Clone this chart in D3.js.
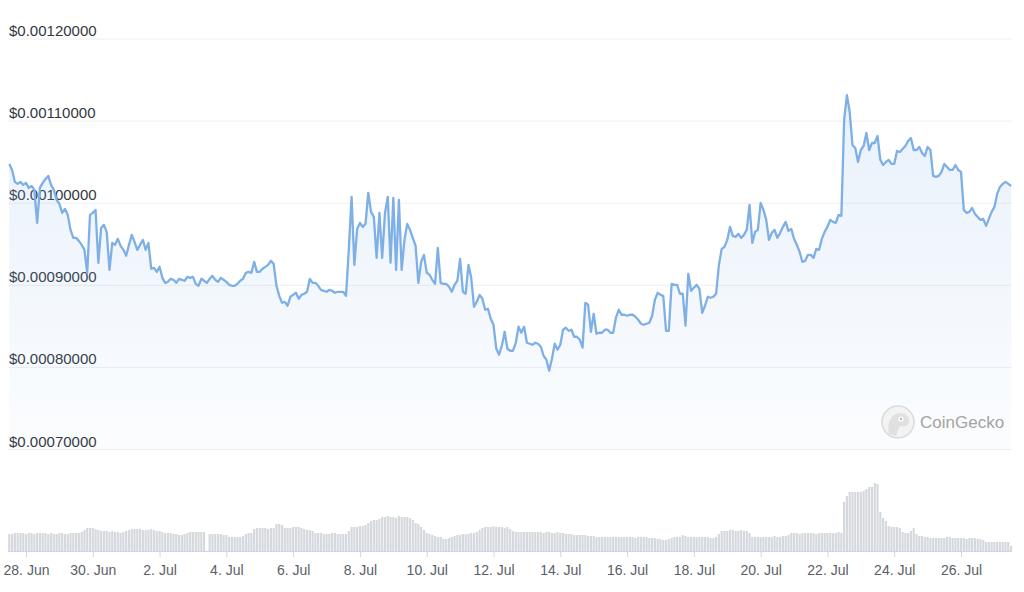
<!DOCTYPE html>
<html>
<head>
<meta charset="utf-8">
<script src="https://cdn.jsdelivr.net/npm/d3@7"></script>
<style>
  html, body { margin: 0; padding: 0; background: #ffffff; }
  svg { display: block; font-family: "Liberation Sans", Arial, Helvetica, sans-serif; }
</style>
</head>
<body>
<svg id="chart" width="1024" height="592"></svg>
<script>
// ---- data (2-hour samples, from 27 Jun 12:00 UTC to 27 Jul 12:00 UTC) ----
const startTime = Date.UTC(2023, 5, 27, 12);
const stepHours = 2;

const prices = [
  0.0010472,0.0010399,0.0010253,0.0010229,0.0010253,0.0010217,0.0010241,0.0010180,0.0010204,0.0010156,0.0009754,0.0010180,
  0.0010241,0.0010289,0.0010326,0.0010217,0.0010156,0.0010034,0.0009985,0.0009876,0.0009925,0.0009852,0.0009669,0.0009572,
  0.0009572,0.0009535,0.0009487,0.0009426,0.0009146,0.0009852,0.0009876,0.0009912,0.0009268,0.0009693,0.0009730,0.0009645,
  0.0009182,0.0009511,0.0009487,0.0009560,0.0009474,0.0009426,0.0009353,0.0009487,0.0009608,0.0009523,0.0009426,0.0009487,
  0.0009547,0.0009426,0.0009511,0.0009195,0.0009207,0.0009158,0.0009219,0.0009085,0.0009024,0.0009036,0.0009073,0.0009061,
  0.0009024,0.0009073,0.0009061,0.0009049,0.0009097,0.0009085,0.0009097,0.0009012,0.0008988,0.0009073,0.0009049,0.0009024,
  0.0009073,0.0009109,0.0009061,0.0009036,0.0009085,0.0009061,0.0009036,0.0009000,0.0008988,0.0008988,0.0009012,0.0009049,
  0.0009073,0.0009146,0.0009158,0.0009146,0.0009280,0.0009158,0.0009158,0.0009195,0.0009219,0.0009243,0.0009292,0.0009255,
  0.0008988,0.0008866,0.0008781,0.0008793,0.0008745,0.0008854,0.0008878,0.0008903,0.0008830,0.0008878,0.0008891,0.0008915,
  0.0009073,0.0009024,0.0009024,0.0008988,0.0008939,0.0008927,0.0008915,0.0008939,0.0008927,0.0008903,0.0008915,0.0008915,
  0.0008915,0.0008866,0.0009426,0.0010071,0.0009243,0.0009681,0.0009754,0.0009706,0.0009742,0.0010119,0.0009888,0.0009827,
  0.0009328,0.0009876,0.0009328,0.0009876,0.0010071,0.0009268,0.0010058,0.0009182,0.0010034,0.0009182,0.0009547,0.0009742,
  0.0009669,0.0009572,0.0009474,0.0009024,0.0009280,0.0009365,0.0009146,0.0009122,0.0009061,0.0009012,0.0009450,0.0009024,
  0.0009012,0.0009012,0.0008976,0.0008915,0.0009000,0.0009049,0.0009316,0.0008915,0.0008891,0.0009243,0.0009085,0.0008732,
  0.0008793,0.0008878,0.0008830,0.0008696,0.0008708,0.0008586,0.0008513,0.0008221,0.0008148,0.0008258,0.0008428,0.0008221,
  0.0008197,0.0008197,0.0008294,0.0008489,0.0008416,0.0008489,0.0008294,0.0008282,0.0008270,0.0008294,0.0008282,0.0008246,
  0.0008136,0.0008088,0.0007954,0.0008100,0.0008282,0.0008209,0.0008270,0.0008453,0.0008477,0.0008440,0.0008453,0.0008367,
  0.0008367,0.0008331,0.0008234,0.0008781,0.0008757,0.0008428,0.0008647,0.0008404,0.0008416,0.0008416,0.0008453,0.0008453,
  0.0008416,0.0008416,0.0008599,0.0008696,0.0008635,0.0008635,0.0008623,0.0008635,0.0008635,0.0008611,0.0008574,0.0008526,
  0.0008513,0.0008526,0.0008538,0.0008623,0.0008818,0.0008903,0.0008878,0.0008866,0.0008440,0.0008440,0.0009012,0.0009000,
  0.0009000,0.0008891,0.0008891,0.0008501,0.0009134,0.0008927,0.0008964,0.0009000,0.0008951,0.0008659,0.0008745,0.0008854,
  0.0008842,0.0008854,0.0008891,0.0009243,0.0009438,0.0009462,0.0009547,0.0009706,0.0009596,0.0009584,0.0009620,0.0009572,
  0.0009608,0.0009669,0.0009973,0.0009511,0.0009645,0.0009669,0.0009998,0.0009912,0.0009791,0.0009547,0.0009633,0.0009669,
  0.0009572,0.0009633,0.0009706,0.0009766,0.0009657,0.0009681,0.0009560,0.0009487,0.0009401,0.0009280,0.0009292,0.0009365,
  0.0009365,0.0009328,0.0009438,0.0009426,0.0009560,0.0009645,0.0009706,0.0009791,0.0009766,0.0009754,0.0009852,0.0009839,
  0.0011007,0.0011311,0.0011105,0.0010703,0.0010667,0.0010496,0.0010642,0.0010691,0.0010849,0.0010642,0.0010727,0.0010727,
  0.0010813,0.0010521,0.0010460,0.0010496,0.0010521,0.0010472,0.0010472,0.0010630,0.0010618,0.0010654,0.0010691,0.0010752,
  0.0010788,0.0010642,0.0010642,0.0010679,0.0010606,0.0010569,0.0010679,0.0010642,0.0010326,0.0010314,0.0010326,0.0010375,
  0.0010472,0.0010435,0.0010399,0.0010399,0.0010460,0.0010399,0.0010375,0.0009912,0.0009876,0.0009888,0.0009937,0.0009864,
  0.0009827,0.0009791,0.0009803,0.0009718,0.0009803,0.0009888,0.0009949,0.0010107,0.0010192,0.0010229,0.0010253,0.0010229,
  0.0010204
];

// trading volume, arbitrary units (relative bar heights)
const volumes = [
  17,17,18,18,18,18,17,18,18,17,18,18,18,18,17,18,17,17,18,18,17,17,
  18,18,18,18,19,21,
  23,23,23,22,
  21,20,20,20,19,20,
  19,19,18,19,20,21,
  22,22,22,22,21,21,
  21,22,21,20,20,19,
  18,18,18,
  17,17,16,16,17,
  18,19,19,19,19,19,19,
  0,
  17,17,17,17,17,16,16,
  14,14,14,14,14,15,
  17,18,18,
  22,23,23,23,23,22,23,23,
  27,27,26,
  23,23,23,
  24,24,24,23,22,21,
  21,20,
  18,18,18,17,17,17,18,18,17,17,17,17,
  20,24,24,24,25,
  25,26,28,
  30,31,31,32,
  34,34,35,34,34,33,35,34,34,34,33,31,
  28,27,24,21,
  18,17,16,15,14,
  14,12,12,13,14,15,
  16,16,17,17,17,18,
  18,19,21,23,
  24,24,24,25,24,24,24,23,24,22,
  20,19,19,19,19,19,
  19,19,19,19,19,18,19,19,18,18,19,18,18,
  17,17,17,16,16,16,16,16,15,15,15,
  14,14,14,14,14,14,14,14,14,14,14,14,14,14,13,14,14,14,14,
  13,13,13,12,12,11,11,12,13,14,14,
  14,16,15,14,14,14,14,14,14,14,14,13,13,14,17,
  20,20,20,21,21,20,20,21,20,20,18,
  14,14,14,14,14,14,14,14,15,14,14,15,15,16,
  18,18,18,17,18,18,18,18,18,17,18,18,18,18,18,18,18,19,18,
  49,55,
  59,59,59,59,59,60,
  62,64,64,
  68,67,
  39,
  33,30,
  25,24,24,24,23,
  19,18,18,20,
  23,17,
  15,15,14,14,
  13,13,13,13,13,13,14,14,13,13,13,13,13,12,13,13,13,12,12,
  11,
  9,9,9,9,9,9,9,9,9,
  5
];

const yTickValues = [0.0007, 0.0008, 0.0009, 0.0010, 0.0011, 0.0012];
const xTickDates = [
  "2023-06-28","2023-06-30","2023-07-02","2023-07-04","2023-07-06","2023-07-08","2023-07-10",
  "2023-07-12","2023-07-14","2023-07-16","2023-07-18","2023-07-20","2023-07-22","2023-07-24","2023-07-26"
];
const watermarkText = "CoinGecko";

// ---- build ----
const data = prices.map((p, i) => ({
  t: new Date(startTime + i * stepHours * 3600e3),
  price: p,
  vol: volumes[i]
}));

const svg = d3.select("#chart");

const x = d3.scaleUtc()
  .domain([new Date(startTime), new Date(startTime + (prices.length - 1) * stepHours * 3600e3)])
  .range([9.3, 1011.1]);

const y = d3.scaleLinear().domain([0.0007, 0.0012]).range([449, 38.5]);
const yVol = d3.scaleLinear().domain([0, 100]).range([551, 451]);

// gridlines + y labels
const yAxis = d3.axisRight(y)
  .tickValues(yTickValues)
  .tickSize(1004)
  .tickFormat(v => "$" + d3.format(".8f")(v));

const gy = svg.append("g").attr("transform", "translate(8,0)").call(yAxis);
gy.select(".domain").remove();
gy.selectAll(".tick line").attr("stroke", "#efefef").attr("stroke-width", 1);
gy.selectAll(".tick text")
  .attr("x", 1)
  .attr("dy", -3)
  .attr("text-anchor", "start")
  .attr("fill", "#33373e")
  .style("font-size", "15px");

// volume bars
const barStep = x(data[1].t) - x(data[0].t);
svg.append("g")
  .selectAll("rect")
  .data(data)
  .join("rect")
  .attr("x", d => x(d.t) - barStep / 2 + 0.3)
  .attr("width", barStep - 0.6)
  .attr("y", d => yVol(d.vol))
  .attr("height", d => yVol(0) - yVol(d.vol))
  .attr("fill", "#d5d8dd");

// area gradient
const defs = svg.append("defs");
const grad = defs.append("linearGradient")
  .attr("id", "areaGrad").attr("x1", 0).attr("y1", 0).attr("x2", 0).attr("y2", 1);
grad.append("stop").attr("offset", "0%").attr("stop-color", "#7fb0e8").attr("stop-opacity", 0.18);
grad.append("stop").attr("offset", "100%").attr("stop-color", "#7fb0e8").attr("stop-opacity", 0.03);

const area = d3.area()
  .x(d => x(d.t))
  .y0(y(0.0007))
  .y1(d => y(d.price));

svg.append("path")
  .datum(data)
  .attr("d", area)
  .attr("fill", "url(#areaGrad)");

const line = d3.line()
  .x(d => x(d.t))
  .y(d => y(d.price));

svg.append("path")
  .datum(data)
  .attr("d", line)
  .attr("fill", "none")
  .attr("stroke", "#7eafe6")
  .attr("stroke-width", 2.3)
  .attr("stroke-linejoin", "round");

// x axis
const xAxis = d3.axisBottom(x)
  .tickValues(xTickDates.map(s => new Date(s + "T00:00:00Z")))
  .tickSize(6)
  .tickSizeOuter(0)
  .tickPadding(8)
  .tickFormat(d3.utcFormat("%-d. %b"));

const gx = svg.append("g").attr("transform", "translate(0,551)").call(xAxis);
gx.select(".domain").attr("stroke", "#ccd6eb").attr("d", "M8,0.5H1012");
gx.selectAll(".tick line").attr("stroke", "#ccd6eb");
gx.selectAll(".tick text").attr("fill", "#5a5e66").style("font-size", "14px");

// watermark
const wm = svg.append("g").attr("transform", "translate(898,422)");
wm.append("circle").attr("r", 16).attr("fill", "#f3f3f3").attr("stroke", "#dadada").attr("stroke-width", 1.5);
wm.append("path")
  .attr("d", "M-9,12 C-11,2 -8,-8 2,-9 C9,-9 12,-4 11,1 C10,4 6,5 2,4 C0,7 -1,11 -2,14 Z")
  .attr("fill", "#e0e0e0");
wm.append("circle").attr("cx", 3).attr("cy", -3).attr("r", 2.6).attr("fill", "#ffffff");
wm.append("circle").attr("cx", 3).attr("cy", -3).attr("r", 1.3).attr("fill", "#bbbbbb");
svg.append("text")
  .attr("x", 920).attr("y", 428)
  .attr("fill", "#a3a3a3")
  .style("font-size", "17px")
  .text(watermarkText);
</script>
</body>
</html>
